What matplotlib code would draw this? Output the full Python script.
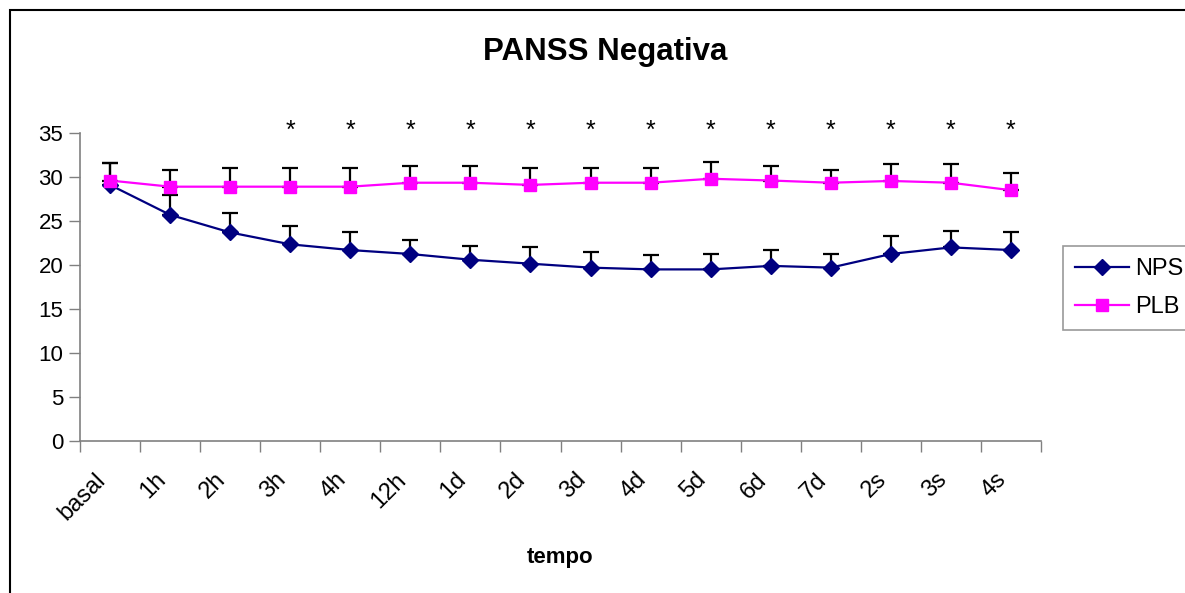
import matplotlib.pyplot as plt
from matplotlib.patches import Rectangle
import numpy as np

plt.rcParams['font.family'] = ['Liberation Sans', 'DejaVu Sans']

# categorias do eixo x
tempos = ['basal', '1h', '2h', '3h', '4h', '12h', '1d', '2d', '3d', '4d',
          '5d', '6d', '7d', '2s', '3s', '4s']

# medias e desvio (so barra superior)
nps = [29.1, 25.7, 23.7, 22.35, 21.7, 21.25, 20.6, 20.15, 19.7, 19.5,
       19.5, 19.9, 19.7, 21.25, 22.0, 21.7]
nps_err = [2.5, 2.2, 2.2, 2.05, 2.0, 1.55, 1.6, 1.85, 1.8, 1.6,
           1.75, 1.8, 1.55, 2.05, 1.9, 2.0]
plb = [29.6, 28.9, 28.9, 28.9, 28.9, 29.35, 29.35, 29.1, 29.35, 29.35,
       29.8, 29.6, 29.35, 29.55, 29.35, 28.5]
plb_err = [2.0, 1.9, 2.1, 2.1, 2.1, 1.9, 1.9, 1.9, 1.65, 1.65,
           1.9, 1.65, 1.45, 1.95, 2.15, 1.9]

# diferenca significativa (*)
signif = [False, False, False, True, True, True, True, True, True, True,
          True, True, True, True, True, True]

x = np.arange(len(tempos))

fig = plt.figure(figsize=(11.85, 5.93), dpi=100)
ax = fig.add_axes([80/1185, 1-441/593, (1041-80)/1185, (441-133)/593])

# moldura externa
fig.add_artist(Rectangle((10/1185, -0.2), 1.5, 1.2-10/593, transform=fig.transFigure,
                         fill=False, edgecolor='black', linewidth=1.5))

zeros = np.zeros(len(x))
ax.errorbar(x, nps, yerr=[zeros, nps_err], fmt='none', ecolor='black',
            elinewidth=1.6, capsize=6, capthick=1.6, zorder=2)
ax.errorbar(x, plb, yerr=[zeros, plb_err], fmt='none', ecolor='black',
            elinewidth=1.6, capsize=6, capthick=1.6, zorder=2)
ax.plot(x, nps, color='#000080', marker='D', markersize=8, linewidth=1.6,
        label='NPS', zorder=3)
ax.plot(x, plb, color='#FF00FF', marker='s', markersize=9, linewidth=1.6,
        label='PLB', zorder=3)

for i, s in enumerate(signif):
    if s:
        ax.text(x[i], 35.3, '*', ha='center', va='center', fontsize=18,
                clip_on=False)

ax.set_xlim(-0.5, len(tempos) - 0.5)
ax.set_ylim(0, 35)
ax.set_yticks(range(0, 36, 5))
ax.tick_params(axis='y', labelsize=16, length=8, width=1, color='gray', pad=4)

ax.set_xticks(x)
ax.set_xticklabels(tempos, rotation=45, ha='right', fontsize=17)
ax.tick_params(axis='x', which='major', length=0, pad=20)
ax.set_xticks(np.arange(-0.5, len(tempos)), minor=True)
ax.tick_params(axis='x', which='minor', length=8, width=1, color='gray')

for sp in ['top', 'right']:
    ax.spines[sp].set_visible(False)
for sp in ['left', 'bottom']:
    ax.spines[sp].set_color('gray')
    ax.spines[sp].set_linewidth(1.2)

fig.text(560/1185, 1-557/593, 'tempo', ha='center', va='center',
         fontsize=16, fontweight='bold')
fig.text(605/1185, 1-52/593, 'PANSS Negativa', ha='center', va='center',
         fontsize=22.5, fontweight='bold')

leg = ax.legend(loc='upper left', bbox_to_anchor=(1063/1185, 1-246/593),
                bbox_transform=fig.transFigure, frameon=True, fancybox=False,
                fontsize=17, handlelength=2.3, borderpad=0.5, labelspacing=0.7,
                handletextpad=0.25, borderaxespad=0)
leg.get_frame().set_edgecolor('gray')
leg.get_frame().set_linewidth(1.2)

fig.savefig('out.png', dpi=100)
